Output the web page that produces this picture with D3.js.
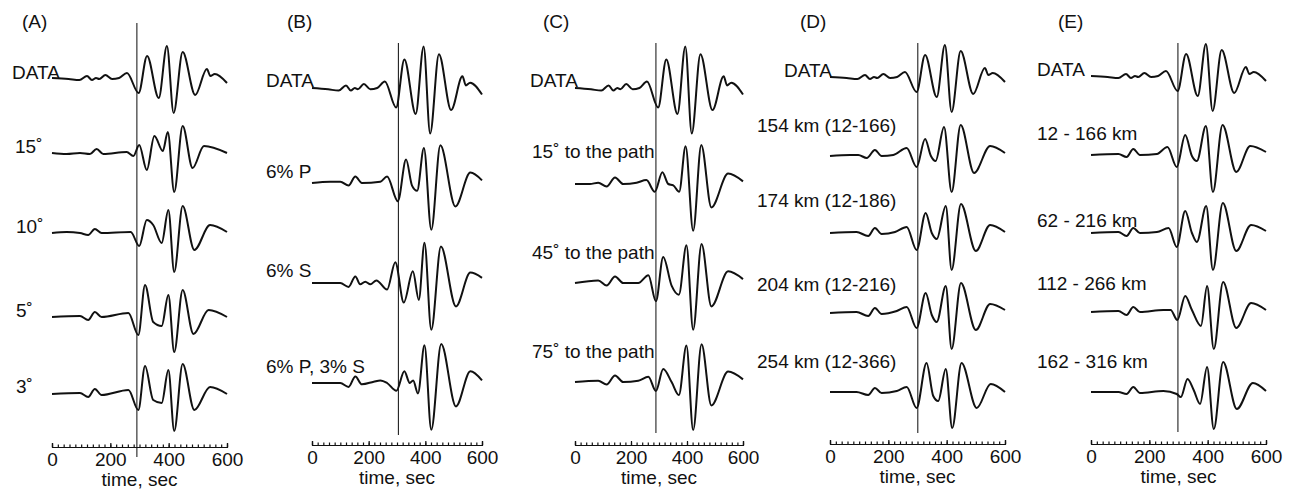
<!DOCTYPE html>
<html>
<head>
<meta charset="utf-8">
<script src="https://cdn.jsdelivr.net/npm/d3@7"></script>
<style>
  body { margin: 0; background: #fff; }
  svg text { font-family: "Liberation Sans", Arial, Helvetica, sans-serif; fill: #111; }
</style>
</head>
<body>
<div id="chart"></div>
<script>
// panel titles and the vertical reference line (sec)
const panelNames = ["(A)", "(B)", "(C)", "(D)", "(E)"];
const markTimes = [291, 305, 289, 301, 298];
const xTickLabels = [0, 200, 400, 600];
const minorStep = 20;
const xLabel = "time, sec";

// trace labels, top to bottom
const labelsA = ["DATA", "15˚", "10˚", "5˚", "3˚"];
const labelsB = ["DATA", "6% P", "6% S", "6% P, 3% S"];
const labelsC = ["DATA", "15˚ to the path", "45˚ to the path", "75˚ to the path"];
const labelsD = ["DATA", "154 km (12-166)", "174 km (12-186)", "204 km (12-216)", "254 km (12-366)"];
const labelsE = ["DATA", "12 - 166 km", "62 - 216 km", "112 - 266 km", "162 - 316 km"];

// waveforms as [time sec, relative amplitude] at peaks / troughs
const dataTrace = [[0,0],[57,-1],[94,-2],[120,2],[137,-2],[151,0],[162,-1],[183,3],[206,-1],[230,0],[257,5],[297,-15],[326,22],[366,-20],[394,32],[417,-35],[448,26],[491,-17],[531,9],[543,2],[558,4],[600,-5]];

const tracesA = [
  [[0,0],[50,-1],[96,0],[130,-1],[153,4],[176,-1],[256,1],[279,-3],[299,8],[325,-17],[351,17],[380,2],[397,21],[419,-39],[448,27],[482,-15],[521,7],[600,0]],
  [[0,0],[50,1],[96,0],[124,-2],[147,4],[170,0],[270,1],[299,-13],[325,13],[347,8],[376,-10],[399,23],[419,-39],[448,27],[488,-17],[542,8],[600,1]],
  [[0,0],[96,1],[124,-3],[147,5],[170,0],[262,4],[296,-18],[319,32],[347,-5],[376,-9],[399,22],[419,-35],[448,27],[485,-17],[537,7],[600,0]],
  [[0,0],[96,1],[124,-3],[147,5],[170,-1],[262,4],[296,-16],[319,28],[347,-6],[376,-9],[399,24],[419,-37],[448,30],[488,-16],[542,7],[600,0]]
];
const tracesB = [
  [[0,0],[64,1],[100,1],[129,-2],[153,5],[176,0],[241,1],[265,5],[303,-14],[332,18],[353,-2],[371,-6],[395,27],[421,-36],[453,29],[506,-18],[559,8],[600,2]],
  [[0,0],[100,0],[129,-3],[153,5],[170,-1],[188,1],[206,-1],[227,2],[265,-5],[294,16],[324,-15],[356,9],[377,-13],[397,31],[421,-36],[455,28],[508,-18],[559,8],[600,4]],
  [[0,0],[100,0],[129,-3],[153,5],[176,-1],[218,1],[241,2],[265,0],[298,-6],[326,9],[345,0],[357,2],[374,-8],[397,29],[421,-36],[456,30],[508,-18],[559,9],[600,2]]
];
const tracesC = [
  [[0,0],[53,0],[83,1],[113,-2],[143,5],[172,0],[220,1],[255,3],[285,-6],[312,9],[333,0],[351,-1],[372,-6],[395,29],[422,-36],[451,30],[487,-18],[547,8],[600,2]],
  [[0,0],[83,2],[113,-2],[143,5],[172,0],[226,0],[262,6],[289,-14],[315,20],[345,-2],[371,-9],[398,29],[422,-36],[452,30],[487,-18],[547,9],[600,3]],
  [[0,0],[83,1],[113,-2],[143,5],[172,0],[226,1],[262,4],[289,-7],[315,10],[345,0],[371,-10],[398,28],[422,-37],[452,29],[487,-18],[547,8],[600,2]]
];
const tracesD = [
  [[0,0],[69,1],[97,1],[126,-2],[154,6],[177,0],[217,1],[263,8],[297,-11],[326,17],[346,0],[362,-5],[391,29],[417,-36],[448,31],[494,-17],[549,10],[600,3]],
  [[0,0],[91,1],[131,-3],[154,5],[177,-1],[223,1],[263,6],[297,-17],[328,20],[349,0],[366,-6],[397,27],[417,-37],[449,29],[500,-18],[549,8],[600,1]],
  [[0,0],[91,1],[131,-3],[154,5],[177,-1],[229,2],[263,6],[297,-15],[328,20],[349,-2],[366,-9],[397,27],[417,-36],[449,30],[500,-17],[549,9],[600,3]],
  [[0,0],[91,0],[131,-3],[154,4],[177,-1],[229,1],[263,5],[297,-16],[331,29],[354,-4],[371,-9],[397,23],[419,-36],[451,29],[503,-16],[551,8],[600,0]]
];
const tracesE = [
  [[0,0],[94,1],[122,-2],[145,6],[168,0],[226,1],[262,8],[294,-12],[323,20],[346,-1],[363,-6],[394,29],[418,-37],[451,30],[498,-17],[546,9],[600,3]],
  [[0,0],[94,1],[122,-3],[145,5],[168,0],[226,1],[266,5],[294,-14],[323,22],[346,0],[363,-9],[395,27],[418,-37],[452,30],[498,-18],[549,8],[600,2]],
  [[0,0],[94,1],[122,-3],[145,5],[168,0],[248,2],[273,2],[296,-8],[323,16],[346,2],[377,-14],[398,26],[421,-37],[453,30],[498,-16],[549,9],[600,2]],
  [[0,0],[94,0],[122,-2],[145,5],[168,-1],[248,1],[294,-2],[308,-5],[331,13],[352,2],[374,-12],[398,25],[421,-37],[453,30],[500,-17],[555,9],[600,1]]
];

const layout = [
  { x0: 52, x1: 227, axisY: 447, lineTop: 23, lineBot: 457, gain: 1, titleX: 22,
    base: [78, 153, 233, 317, 394], labelX: [12, 15, 16, 16, 16], labelY: [79, 153, 233, 317, 393] },
  { x0: 312, x1: 482, axisY: 445, lineTop: 43, lineBot: 435, gain: 1.3, titleX: 287,
    base: [88, 183, 283, 383], labelX: [266, 266, 266, 266], labelY: [87, 178, 277, 373] },
  { x0: 575, x1: 743, axisY: 445, lineTop: 43, lineBot: 433, gain: 1.3, titleX: 543,
    base: [88, 184, 283, 382], labelX: [530, 532, 532, 532], labelY: [87, 158, 259, 358] },
  { x0: 830, x1: 1005, axisY: 444, lineTop: 43, lineBot: 433, gain: 1, titleX: 800,
    base: [77, 156, 233, 313, 392], labelX: [784, 757, 757, 757, 757], labelY: [77, 132, 207, 291, 368] },
  { x0: 1091, x1: 1266, axisY: 444, lineTop: 43, lineBot: 432, gain: 1, titleX: 1058,
    base: [76, 155, 233, 312, 392], labelX: [1037, 1037, 1037, 1037, 1037], labelY: [76, 140, 227, 290, 368] }
];

const panelLabels = [labelsA, labelsB, labelsC, labelsD, labelsE];
const panelTraces = [tracesA, tracesB, tracesC, tracesD, tracesE].map((t) => [dataTrace].concat(t));

const width = 1294, height = 490;
const svg = d3.select("#chart").append("svg")
  .attr("width", width)
  .attr("height", height);

panelNames.forEach((name, i) => {
  const L = layout[i];
  const g = svg.append("g");
  const x = d3.scaleLinear().domain([0, 600]).range([L.x0, L.x1]);

  g.append("text")
    .attr("x", L.titleX).attr("y", 28)
    .style("font-size", "19px")
    .text(name);

  // reference line
  g.append("line")
    .attr("x1", x(markTimes[i])).attr("x2", x(markTimes[i]))
    .attr("y1", L.lineTop).attr("y2", L.lineBot)
    .attr("stroke", "#222").attr("stroke-width", 1.1);

  panelTraces[i].forEach((tr, j) => {
    const y = d3.scaleLinear().domain([0, 1]).range([L.base[j], L.base[j] - L.gain]);
    const line = d3.line()
      .x((d) => x(d[0]))
      .y((d) => y(d[1]))
      .curve(d3.curveMonotoneX);
    g.append("path")
      .datum(tr)
      .attr("d", line)
      .attr("fill", "none")
      .attr("stroke", "#111")
      .attr("stroke-width", 2)
      .attr("stroke-linejoin", "round");

    g.append("text")
      .attr("x", L.labelX[j]).attr("y", L.labelY[j])
      .style("font-size", "19px")
      .attr("xml:space", "preserve")
      .text(panelLabels[i][j]);
  });

  // axis: minor ticks every 20 s pointing up, labelled ticks below
  const minor = d3.axisBottom(x)
    .tickValues(d3.range(0, 601, minorStep))
    .tickSizeInner(-2.5).tickSizeOuter(-4)
    .tickFormat("");
  const ax = g.append("g").attr("transform", `translate(0,${L.axisY})`).call(minor);
  ax.selectAll("path, line").attr("stroke", "#111").attr("stroke-width", 1.2);

  const major = d3.axisBottom(x)
    .tickValues(xTickLabels)
    .tickSizeInner(-4).tickSizeOuter(0)
    .tickPadding(6);
  const ax2 = g.append("g").attr("transform", `translate(0,${L.axisY})`).call(major);
  ax2.select(".domain").remove();
  ax2.selectAll("line").attr("stroke", "#111").attr("stroke-width", 1.2);
  ax2.selectAll("text")
    .style("font-size", "19px")
    .style("font-family", "'Liberation Sans', Arial, sans-serif")
    .attr("fill", "#111");

  g.append("text")
    .attr("x", (L.x0 + L.x1) / 2).attr("y", L.axisY + 39)
    .attr("text-anchor", "middle")
    .style("font-size", "19px")
    .text(xLabel);
});
</script>
</body>
</html>
